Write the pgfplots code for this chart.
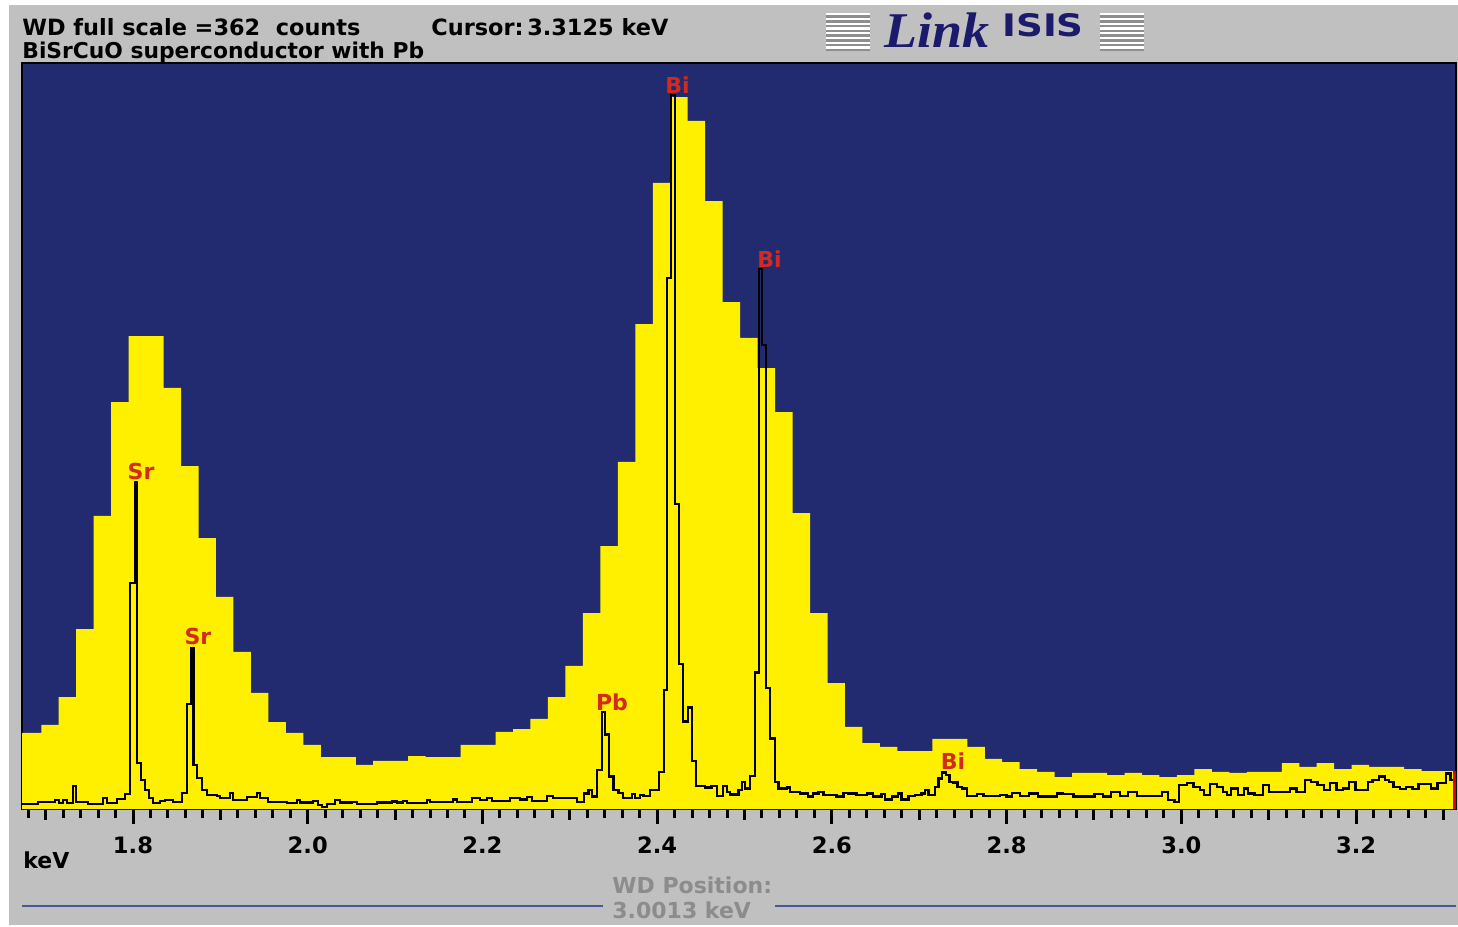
\documentclass[border=0pt]{standalone}
\usepackage{fontspec}
\setmainfont{DejaVu Sans}
\newfontfamily\serifit{Liberation Serif}
\usepackage{pgfplots}
\pgfplotsset{compat=1.18}
\definecolor{winGray}{HTML}{C0C0C0}
\definecolor{plotBlue}{HTML}{222A70}
\definecolor{edsYellow}{HTML}{FFF000}
\definecolor{markRed}{HTML}{D42A1E}
\definecolor{logoBlue}{HTML}{1C1A6B}
\definecolor{posGray}{HTML}{8C8C8C}
\definecolor{lineBlue}{HTML}{4A5896}
\definecolor{stripeGray}{HTML}{8E8E8E}
\begin{document}
\begin{tikzpicture}
\begin{scope}[x=0.5pt,y=-0.5pt]
\useasboundingbox (0,0) rectangle (1458,927);
\fill[white] (0,0) rectangle (1458,927);
\fill[winGray] (9,5) rectangle (1458,925);
\node[anchor=base west, inner sep=0, font=\bfseries\fontsize{11.2}{13}\selectfont] at (22,35) {WD full scale =362\ \ counts};
\node[anchor=base west, inner sep=0, font=\bfseries\fontsize{11.2}{13}\selectfont] at (431,35) {Cursor:\,3.3125 keV};
\node[anchor=base west, inner sep=0, font=\bfseries\fontsize{10.9}{13}\selectfont] at (22,58) {BiSrCuO superconductor with Pb};
\foreach \xo in {826,1100}{
  \foreach \i in {0,...,7}{
    \fill[white] (\xo,13+\i*4.75) rectangle (\xo+44,13+\i*4.75+2.4);
    \fill[stripeGray] (\xo,13+\i*4.75+2.4) rectangle (\xo+44,13+\i*4.75+4.75);
  }
}
\node[anchor=base west, inner sep=0, text=logoBlue] at (884,47) {\scalebox{1.08}[1]{\serifit\bfseries\itshape\fontsize{25}{25}\selectfont Link}};
\node[anchor=base west, inner sep=0, text=logoBlue] at (1002,36) {\scalebox{1.2}[1]{\bfseries\fontsize{15.5}{15.5}\selectfont ISIS}};
\node[anchor=base west, inner sep=0, font=\bfseries\fontsize{11}{13}\selectfont] at (23,868) {keV};
\node[anchor=base west, inner sep=0, text=posGray, font=\bfseries\fontsize{11}{13}\selectfont] at (612,893) {WD Position:};
\node[anchor=base west, inner sep=0, text=posGray, font=\bfseries\fontsize{11}{13}\selectfont] at (612,918) {3.0013 keV};
\draw[lineBlue, line width=1.2pt] (22,906) -- (603,906);
\draw[lineBlue, line width=1.2pt] (775,906) -- (1456,906);
\end{scope}
\begin{axis}[
  at={(11pt,-404.5pt)}, anchor=south west,
  scale only axis, width=717pt, height=373pt,
  xmin=1.67294, xmax=3.31442, ymin=0, ymax=362,
  axis background/.style={fill=plotBlue},
  axis line style={black, line width=1pt},
  ytick=\empty,
  xtick={1.8,2.0,2.2,2.4,2.6,2.8,3.0,3.2},
  minor xtick={1.68,1.70,...,3.31},
  extra x ticks={1.7,1.9,2.1,2.3,2.5,2.7,2.9,3.1,3.3},
  extra x tick labels={},
  extra x tick style={major tick length=5.5pt},
  tick align=outside, xtick pos=left,
  major tick length=7.5pt, minor tick length=4.5pt,
  tick style={black, line width=1.5pt},
  xticklabel style={font=\bfseries\fontsize{11.3}{12}\selectfont, text=black, yshift=-3pt,
    /pgf/number format/fixed, /pgf/number format/fixed zerofill,
    /pgf/number format/precision=1, /pgf/number format/assume math mode=true},
  clip=false,
]
% ED spectrum (yellow histogram, 0.02 keV channels)
\addplot[const plot, fill=edsYellow, draw=none] coordinates {
(1.673,36.9) (1.695,40.8) (1.715,54.3) (1.735,87.3) (1.755,142.2) (1.775,197.5)
(1.795,229.5) (1.815,229.5) (1.835,204.3) (1.855,166.4) (1.875,131.5) (1.895,102.9)
(1.915,76.2) (1.935,56.3) (1.955,42.2) (1.975,36.9) (1.995,31.1) (2.015,25.2)
(2.035,25.2) (2.055,21.4) (2.075,23.3) (2.095,23.3) (2.115,25.7) (2.135,25.2)
(2.155,25.2) (2.175,31.1) (2.195,31.1) (2.215,37.4) (2.235,38.8) (2.255,43.7)
(2.275,54.3) (2.295,69.4) (2.315,95.1) (2.335,127.6) (2.355,168.4) (2.375,235.3)
(2.395,303.8) (2.415,345.5) (2.435,333.9) (2.455,295.0) (2.475,246.0) (2.495,228.6)
(2.515,214.0) (2.535,192.6) (2.555,143.6) (2.575,95.1) (2.595,61.1) (2.615,39.8)
(2.635,32.0) (2.655,30.1) (2.675,28.1) (2.695,28.1) (2.715,34.0) (2.735,34.0)
(2.755,30.1) (2.775,24.3) (2.795,22.8) (2.815,19.4) (2.835,18.0) (2.855,15.5)
(2.875,17.5) (2.895,17.5) (2.915,16.5) (2.935,17.5) (2.955,16.5) (2.975,15.5)
(2.995,16.5) (3.015,19.4) (3.035,18.0) (3.055,17.5) (3.075,18.0) (3.095,18.0)
(3.115,22.3) (3.135,20.4) (3.155,22.3) (3.175,19.4) (3.195,21.4) (3.215,20.4)
(3.235,20.4) (3.255,19.4) (3.275,18.4) (3.295,18.4) (3.3144,18.4)
} \closedcycle;
% WD spectrum (black step line)
\addplot[const plot, draw=black, line width=1.2pt] coordinates {
(1.673,2.4) (1.6913,3.5) (1.7107,4.4) (1.7153,2.9) (1.7199,4.4) (1.7245,2.9)
(1.7313,11.2) (1.7348,3.5) (1.7485,2.4) (1.7657,5.3) (1.7702,2.9) (1.7817,4.9)
(1.7908,7.3) (1.7966,109.7) (1.8023,158.7) (1.8046,22.3) (1.8092,14.1) (1.8137,9.2)
(1.8183,5.3) (1.8229,2.9) (1.8309,3.9) (1.8366,4.4) (1.8458,3.5) (1.8561,7.8)
(1.8618,51.0) (1.8670,78.1) (1.8693,21.4) (1.8733,15.0) (1.8790,9.2) (1.8847,6.8)
(1.8962,6.3) (1.8996,5.3) (1.9110,7.8) (1.9145,4.4) (1.9305,5.8) (1.9419,7.8)
(1.9454,5.3) (1.9545,3.5) (1.9763,2.9) (1.9877,4.4) (1.9912,3.1) (2.0061,4.0)
(2.0118,1.9) (2.0164,1.1) (2.0221,2.3) (2.0312,4.4) (2.0370,3.1) (2.0507,3.5)
(2.0564,2.3) (2.0793,3.1) (2.0965,3.7) (2.1022,3.1) (2.1091,4.0) (2.1136,2.8)
(2.1365,4.4) (2.1400,3.3) (2.1663,4.7) (2.1709,3.5) (2.1880,5.2) (2.1972,4.4)
(2.2052,5.2) (2.2110,3.9) (2.2316,5.2) (2.2430,4.7) (2.2510,5.7) (2.2568,4.0)
(2.2739,6.3) (2.2808,5.2) (2.3083,3.3) (2.3163,7.6) (2.3214,9.2) (2.3254,6.0)
(2.3311,18.9) (2.3369,47.1) (2.3403,36.2) (2.3452,15.7) (2.3498,9.2) (2.3556,7.9)
(2.3606,5.2) (2.3709,7.3) (2.3747,5.2) (2.3804,6.8) (2.3842,6.3) (2.3918,9.2)
(2.4021,18.1) (2.4078,57.7) (2.4116,257.8) (2.4158,346.5) (2.4204,147.9) (2.4250,70.4)
(2.4299,42.4) (2.4356,49.2) (2.4402,23.3) (2.4444,11.2) (2.4548,10.5) (2.4624,11.2)
(2.4682,6.3) (2.4757,11.2) (2.4796,8.4) (2.4834,7.1) (2.4929,9.2) (2.4968,13.2)
(2.5006,10.0) (2.5063,16.0) (2.5120,66.3) (2.5169,262.0) (2.5197,225.2) (2.5246,58.6)
(2.5292,34.3) (2.5349,13.2) (2.5387,10.0) (2.5483,10.5) (2.5521,8.4) (2.5635,7.6)
(2.5730,6.0) (2.5787,7.6) (2.5845,8.4) (2.5902,6.8) (2.6055,6.0) (2.6131,7.9)
(2.6188,7.6) (2.6284,6.8) (2.6399,7.6) (2.6474,6.0) (2.6570,7.3) (2.6608,4.7)
(2.6685,6.0) (2.6760,7.6) (2.6799,4.7) (2.6875,6.3) (2.6952,6.8) (2.7028,7.6)
(2.7066,9.2) (2.7104,6.8) (2.7181,10.8) (2.7219,14.9) (2.7258,17.8) (2.7307,16.5)
(2.7345,13.2) (2.7391,12.8) (2.7437,10.8) (2.7487,10.0) (2.7544,6.3) (2.7659,7.3)
(2.7734,6.3) (2.7925,6.8) (2.8001,6.0) (2.8059,7.9) (2.8154,6.3) (2.8257,7.6)
(2.8360,6.0) (2.8577,7.6) (2.8646,7.3) (2.8767,6.0) (2.9008,7.3) (2.9104,6.0)
(2.9195,8.4) (2.9298,6.3) (2.9390,8.4) (2.9493,6.3) (2.9779,8.4) (2.9848,4.4)
(2.9923,3.5) (2.9971,11.6) (3.0065,12.5) (3.0140,10.8) (3.0214,9.2) (3.0260,6.8)
(3.0329,12.1) (3.0405,10.8) (3.0477,8.4) (3.0523,6.8) (3.0569,10.0) (3.0646,6.8)
(3.0718,10.0) (3.0764,7.6) (3.0838,6.8) (3.0935,11.6) (3.1004,8.4) (3.1244,10.0)
(3.1320,8.4) (3.1416,14.1) (3.1485,13.2) (3.1561,11.6) (3.1633,9.2) (3.1702,12.5)
(3.1778,9.2) (3.1851,10.0) (3.1920,13.2) (3.1995,9.2) (3.2137,13.2) (3.2188,14.1)
(3.2260,15.7) (3.2332,14.1) (3.2378,13.2) (3.2428,10.8) (3.2500,9.6) (3.2572,10.8)
(3.2645,9.6) (3.2717,12.1) (3.2858,10.0) (3.2934,12.5) (3.3030,17.3) (3.3079,14.1)
(3.3127,14.1)
};
% cursor
\addplot[draw=red!85!black, line width=1.2pt] coordinates {(3.3125,0) (3.3125,18.4)};
% element markers
\begin{scope}[every node/.style={text=markRed, font=\bfseries\fontsize{11}{11}\selectfont, anchor=base, inner sep=0}]
\node at (axis cs:1.8092,160.1) {Sr};
\node at (axis cs:1.8744,79.6) {Sr};
\node at (axis cs:2.3483,48.0) {Pb};
\node at (axis cs:2.4233,347.4) {Bi};
\node at (axis cs:2.5286,263.0) {Bi};
\node at (axis cs:2.7387,19.4) {Bi};
\end{scope}
\end{axis}
\end{tikzpicture}
\end{document}
